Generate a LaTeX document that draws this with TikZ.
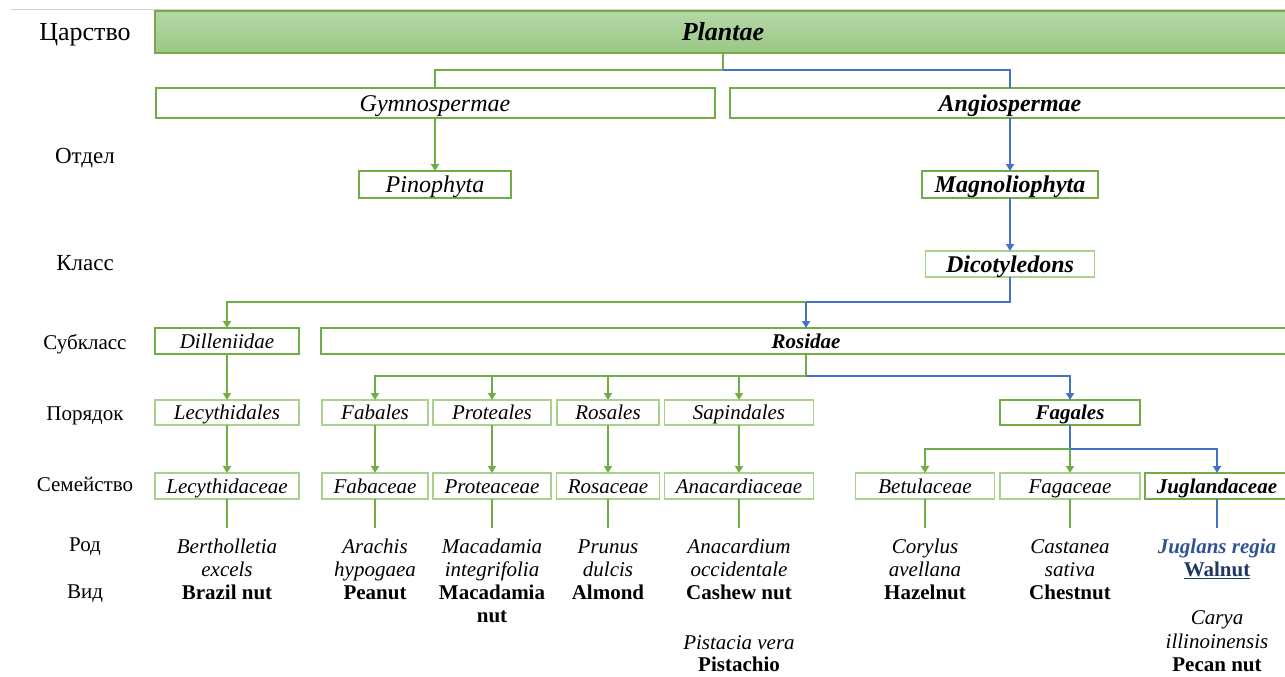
\documentclass[tikz,border=0pt]{standalone}
\usepackage{fontspec}
\setmainfont{Liberation Serif}
\usetikzlibrary{arrows.meta,calc}
\definecolor{gdark}{HTML}{70AD47}
\definecolor{glight}{HTML}{A9D18E}
\definecolor{bl}{HTML}{4472C4}
\definecolor{tblue}{HTML}{2F5496}
\definecolor{wblue}{HTML}{203864}
\definecolor{ptop}{HTML}{B5D7A8}
\definecolor{pbot}{HTML}{9BC785}
\begin{document}
\begin{tikzpicture}[x=1pt,y=-1pt,
  f21/.style={font=\fontsize{21}{23}\selectfont, text height=15pt, text depth=1pt},
  f24/.style={font=\fontsize{24}{26}\selectfont, text height=17pt, text depth=1pt},
  box/.style={draw=gdark, line width=2pt, fill=white, inner sep=0pt, outer sep=0pt},
  lbox/.style={draw=glight, line width=1.7pt, fill=white, inner sep=0pt, outer sep=0pt},
  rowlab/.style={font=\fontsize{21}{23}\selectfont, anchor=base, inner sep=0pt},
  spec/.style={font=\fontsize{21}{23}\selectfont, align=center, anchor=north, inner sep=0pt},
  gl/.style={draw=gdark, line width=2pt},
  bln/.style={draw=bl, line width=2pt},
  ga/.style={gl, -{Triangle[width=8pt,length=7pt]}},
  ba/.style={bln, -{Triangle[width=8pt,length=7pt]}}]
\useasboundingbox (0,0) rectangle (1285,677);
\clip (0,0) rectangle (1285,677);
\draw[black!18, line width=1pt] (11,10) -- (1285,10);

% row labels
\node[rowlab, font=\fontsize{26}{28}\selectfont] (lk) at (85,41) {Царство};
\node[rowlab, font=\fontsize{23}{25}\selectfont] (ld) at (85,163) {Отдел};
\node[rowlab, font=\fontsize{23}{25}\selectfont] (lc) at (85,270) {Класс};
\node[rowlab] (lsc) at (85,349) {Субкласс};
\node[rowlab] (lo) at (85,420) {Порядок};
\node[rowlab] (lf) at (85,491) {Семейство};
\node[rowlab] (lg) at (85,551) {Род};
\node[rowlab] (ls) at (85,598) {Вид};

% kingdom
\node[draw=gdark, line width=2pt, top color=ptop, bottom color=pbot, inner sep=0pt, outer sep=0pt,
  minimum width=1136pt, minimum height=42pt, font=\fontsize{26}{28}\selectfont, text height=19pt, text depth=1pt]
  (plantae) at (723,32) {\bfseries\itshape Plantae};

% divisions
\node[box,f24,minimum width=559pt,minimum height=30pt] (gymno) at (435,103) {\itshape Gymnospermae};
\node[box,f24,minimum width=560pt,minimum height=30pt] (angio) at (1010,103) {\bfseries\itshape Angiospermae};
\node[box,f24,minimum width=152pt,minimum height=27pt] (pino) at (435,184.5) {\itshape Pinophyta};
\node[box,f24,minimum width=176pt,minimum height=27pt] (magno) at (1010,184.5) {\bfseries\itshape Magnoliophyta};
\node[lbox,f24,minimum width=169pt,minimum height=26pt] (dicot) at (1010,264) {\bfseries\itshape Dicotyledons};

% subclasses
\node[box,f21,minimum width=144pt,minimum height=26pt] (dill) at (227,341) {\itshape Dilleniidae};
\node[box,f21,minimum width=970pt,minimum height=26pt] (rosidae) at (806,341) {\bfseries\itshape Rosidae};

% orders
\node[lbox,f21,minimum width=144pt,minimum height=25pt] (lecales) at (227,412.5) {\itshape Lecythidales};
\node[lbox,f21,minimum width=106pt,minimum height=25pt] (fabales) at (375,412.5) {\itshape Fabales};
\node[lbox,f21,minimum width=118pt,minimum height=25pt] (proteales) at (492,412.5) {\itshape Proteales};
\node[lbox,f21,minimum width=102pt,minimum height=25pt] (rosales) at (608,412.5) {\itshape Rosales};
\node[lbox,f21,minimum width=149pt,minimum height=25pt] (sapindales) at (739,412.5) {\itshape Sapindales};
\node[box,f21,minimum width=140pt,minimum height=25pt] (fagales) at (1070,412.5) {\bfseries\itshape Fagales};

% families
\node[lbox,f21,minimum width=144pt,minimum height=26pt] (lecaceae) at (227,486) {\itshape Lecythidaceae};
\node[lbox,f21,minimum width=106pt,minimum height=26pt] (fabaceae) at (375,486) {\itshape Fabaceae};
\node[lbox,f21,minimum width=118pt,minimum height=26pt] (proteaceae) at (492,486) {\itshape Proteaceae};
\node[lbox,f21,minimum width=103pt,minimum height=26pt] (rosaceae) at (608,486) {\itshape Rosaceae};
\node[lbox,f21,minimum width=149pt,minimum height=26pt] (anacard) at (739,486) {\itshape Anacardiaceae};
\node[lbox,f21,minimum width=139pt,minimum height=26pt] (betul) at (925,486) {\itshape Betulaceae};
\node[lbox,f21,minimum width=140pt,minimum height=26pt] (fagaceae) at (1070,486) {\itshape Fagaceae};
\node[box,f21,minimum width=144pt,minimum height=26pt] (jugl) at (1217,486) {\bfseries\itshape Juglandaceae};

% connectors
\draw[gl] (plantae.south) -- ++(0,17) coordinate (j0) -| (gymno.north);
\draw[bln] (j0) -| (angio.north);
\draw[ga] (gymno.south) -- (pino.north);
\draw[ba] (angio.south) -- (magno.north);
\draw[ba] (magno.south) -- (dicot.north);
\draw[ba] (dicot.south) -- ++(0,25) coordinate (j1) -| (rosidae.north);
\draw[ga] (j1 -| rosidae.north) -| (dill.north);
\draw[ga] (dill.south) -- (lecales.north);
\draw[gl] (rosidae.south) -- ++(0,22) coordinate (j2);
\draw[ga] (j2) -| (fabales.north);
\draw[ga] (j2) -| (proteales.north);
\draw[ga] (j2) -| (rosales.north);
\draw[ga] (j2) -| (sapindales.north);
\draw[ba] (j2) -| (fagales.north);
\draw[ga] (lecales.south) -- (lecaceae.north);
\draw[ga] (fabales.south) -- (fabaceae.north);
\draw[ga] (proteales.south) -- (proteaceae.north);
\draw[ga] (rosales.south) -- (rosaceae.north);
\draw[ga] (sapindales.south) -- (anacard.north);
\draw[bln] (fagales.south) -- ++(0,24) coordinate (j3);
\draw[ga] (j3) -| (betul.north);
\draw[ga] (j3) -- (fagaceae.north);
\draw[ba] (j3) -| (jugl.north);

% lines to genera
\draw[gl] (lecaceae.south) -- ++(0,29) coordinate (e1);
\draw[gl] (fabaceae.south) -- ++(0,29) coordinate (e2);
\draw[gl] (proteaceae.south) -- ++(0,29) coordinate (e3);
\draw[gl] (rosaceae.south) -- ++(0,29) coordinate (e4);
\draw[gl] (anacard.south) -- ++(0,29) coordinate (e5);
\draw[gl] (betul.south) -- ++(0,29) coordinate (e6);
\draw[gl] (fagaceae.south) -- ++(0,29) coordinate (e7);
\draw[bln] (jugl.south) -- ++(0,29) coordinate (e8);

% species
\node[spec] (s1) at (227,539) {\vphantom{l}\itshape Bertholletia\\\itshape excels\\\bfseries Brazil nut};
\node[spec] (s2) at (375,539) {\vphantom{l}\itshape Arachis\\\itshape hypogaea\\\bfseries Peanut};
\node[spec] (s3) at (492,539) {\vphantom{l}\itshape Macadamia\\\itshape integrifolia\\\bfseries Macadamia\\\bfseries nut};
\node[spec] (s4) at (608,539) {\vphantom{l}\itshape Prunus\\\itshape dulcis\\\bfseries Almond};
\node[spec] (s5) at (739,539) {\vphantom{l}\itshape Anacardium\\\itshape occidentale\\\bfseries Cashew nut\\[27pt]\itshape Pistacia vera\\[-1pt]\bfseries Pistachio};
\node[spec] (s6) at (925,539) {\vphantom{l}\itshape Corylus\\\itshape avellana\\\bfseries Hazelnut};
\node[spec] (s7) at (1070,539) {\vphantom{l}\itshape Castanea\\\itshape sativa\\\bfseries Chestnut};
\node[spec] (s8) at (1217,539) {\vphantom{l}\color{tblue}\bfseries\itshape Juglans regia\\\color{wblue}\bfseries\underline{Walnut}\\[25pt]\itshape Carya\\[1pt]\itshape illinoinensis\\\bfseries Pecan nut};
\end{tikzpicture}
\end{document}
